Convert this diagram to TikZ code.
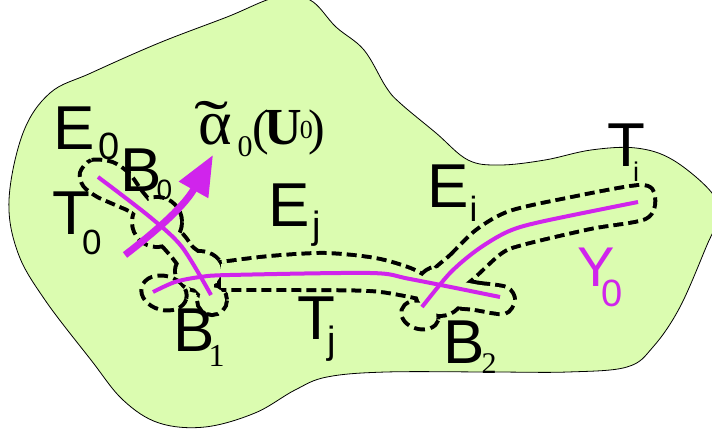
\documentclass[tikz,border=0pt]{standalone}
\usepackage{fontspec}
\setmainfont{Liberation Sans}
\newfontfamily\serifnum{Liberation Serif}
\usepackage{graphicx}
\usetikzlibrary{arrows.meta}

\definecolor{blobgreen}{RGB}{219,252,176}
\definecolor{pathpurple}{RGB}{208,36,236}

% lowered index: size, drop, text
\newcommand{\lsub}[3]{\raisebox{-#2pt}{\fontsize{#1}{#1}\selectfont #3}}

% the dashed neighbourhoods, drawn twice (outline, then inside)
\newcommand{\regions}[1]{%
  \path[#1] plot[smooth cycle, tension=0.5] coordinates {(82,173) (92,162) (112,164) (128,175) (141,193) (160,215) (182,236) (191,248) (202,258) (214,285) (208,297) (196,290) (178,262) (162,243) (135,213) (118,204) (98,195) (85,185)};
  \path[#1] (157,222) circle[radius=23];
  \path[#1] (199,271) ellipse[x radius=22, y radius=18];
  \path[#1, rotate around={-15:(164,293)}] (164,293) ellipse[x radius=21, y radius=15];
  \path[#1] (212,300) circle[radius=13];
  \path[#1] (221,288) -- plot[smooth] coordinates {(221,264) (270,258) (325,255) (375,260) (410,270) (432,282)}
    -- plot[smooth] coordinates {(432,300) (405,294) (370,289) (300,288) (221,288)} -- cycle;
  \path[#1] (440,291) circle[radius=23];
  \path[#1, rotate around={-15:(420,315)}] (420,315) ellipse[x radius=17, y radius=12];
  \path[#1] plot[smooth cycle, tension=0.5] coordinates {(445,281) (480,285) (506,289) (513,300) (504,312) (475,308) (445,303)};
  \path[#1] plot[smooth cycle, tension=0.5] coordinates {(432,276) (452,256) (478,231) (510,213) (567,200) (640,187) (653,197) (645,217) (590,227) (522,243) (500,252) (470,279) (450,292)};
}

\begin{document}
\begin{tikzpicture}[
    x=1pt, y=-1pt,
    tubeline/.style={draw=black, line width=8pt, dash pattern=on 10pt off 5pt},
    tubefill/.style={fill=blobgreen},
    curve/.style={draw=pathpurple, line width=4pt},
    flow/.style={draw=pathpurple, line width=7pt, -{Triangle[length=40pt, width=32pt]}},
    lbl/.style={inner sep=0pt, anchor=base west, font=\fontsize{62}{62}\selectfont}
  ]
  \useasboundingbox (0,0) rectangle (712,435);
  \clip (0,0) rectangle (712,435);

  % the domain
  \path[fill=blobgreen, draw=black, line width=0.8pt] plot[smooth cycle, tension=0.6] coordinates {
    (227,17) (277,-3) (310,0) (336,27) (364,50) (386,87) (400,103) (436,133) (468,160)
    (500,165) (545,160) (591,150) (636,148) (673,160) (712,193) (718,218) (707,245)
    (680,307) (653,347) (627,367) (568,372) (491,372) (386,372) (327,377) (295,390)
    (255,413) (205,427) (159,423) (123,400) (91,360) (45,300) (18,253) (9,200)
    (23,133) (50,93) (91,73) (159,43)};

  \regions{tubeline}
  \regions{tubefill}

  % the tree Y_0
  \draw[curve] plot[smooth] coordinates {(98,177) (150,217) (182,247) (211,295)};
  \draw[curve] plot[smooth] coordinates {(153,292) (175,282) (200,277) (230,275) (370,273) (410,279) (500,297)};
  \draw[curve] plot[smooth] coordinates {(422,307) (450,273) (477,250) (507,232) (540,222) (638,202)};

  \coordinate (flowS) at (125,255);
  \coordinate (flowE) at (213,155);
  \draw[flow] (flowS) .. controls (160,228) and (185,205) .. (flowE);

  % labels
  \node[lbl] (E0) at (53,150) {E\kern4pt\lsub{38}{10}{0}};
  \node[lbl] (B0) at (120,192) {B\kern-5pt\lsub{28}{8}{0}};
  \node[lbl] (T0) at (52,235) {T\kern-8pt\lsub{35}{20}{0}};
  \node[lbl] (Ej) at (268,227) {E\kern3pt\lsub{38}{12}{j}};
  \node[lbl] (Tj) at (297,340) {T\kern-8pt\lsub{38}{14}{j}};
  \node[lbl] (B1) at (173,352) {B\kern-6pt\lsub{32}{15}{\serifnum 1}};
  \node[lbl] (B2) at (443,363) {B\kern-3pt\lsub{30}{10}{\serifnum 2}};
  \node[lbl] (Ei) at (427,208) {E\kern1pt\lsub{35}{14}{i}};
  \node[lbl] (Ti) at (607,167) {T\kern-12pt\lsub{27}{15}{i}};
  \node[lbl, text=pathpurple, font=\fontsize{56}{56}\selectfont] (Y0) at (577,287) {Y\kern-13pt\lsub{38}{20}{0}};
  \node[lbl, font=\serifnum\fontsize{64}{64}\selectfont] (alpha) at (198,145)
    {\makebox[0pt][l]{\hspace{-4pt}\scalebox{1.6}[1]{\char"02DC}}α\kern6pt\lsub{30}{12}{0}%
     {\fontsize{50}{50}\selectfont(}\kern-5pt{\fontsize{52}{52}\selectfont\bfseries U}\kern-2pt%
     \raisebox{6pt}{\fontsize{26}{26}\selectfont 0}\kern-4pt{\fontsize{50}{50}\selectfont)}};
\end{tikzpicture}
\end{document}
